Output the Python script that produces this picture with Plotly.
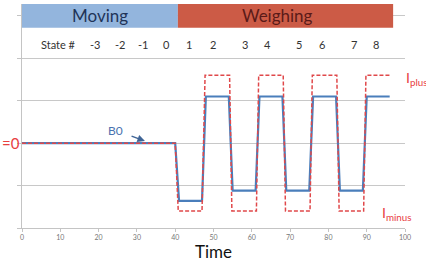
import plotly.graph_objects as go

# ---- data ----
blue_t = [0, 40, 41, 47, 48, 54, 55, 61, 62, 68, 69, 75, 76, 82, 83, 89, 90, 96]
blue_v = [0, 0, -1.36, -1.36, 1.1, 1.1, -1.12, -1.12, 1.1, 1.1, -1.12, -1.12,
          1.1, 1.1, -1.12, -1.12, 1.1, 1.1]

red_t = [0, 40, 40.8, 47, 47.8, 54.2, 54.8, 61.2, 61.8, 68.2, 68.8, 75.2,
         75.8, 82.2, 82.8, 89.2, 89.8, 96]
red_v = [0, 0, -1.6, -1.6, 1.6, 1.6, -1.6, -1.6, 1.6, 1.6, -1.6, -1.6,
         1.6, 1.6, -1.6, -1.6, 1.6, 1.6]

state_labels = ["State #", "-3", "-2", "-1", "0", "1", "2", "3", "4", "5", "6", "7", "8"]
state_x = [9.4, 19.1, 25.6, 31.6, 37.6, 43.6, 49.9, 58.1, 64.2, 72.3, 78.3, 86.7, 92.4]

phase_names = ["Moving", "Weighing"]
phase_start = [0, 40.7]
phase_end = [40.7, 96.9]
phase_fill = ["#93B5DD", "#CC5B46"]
phase_text = ["#1F3458", "#5A1A18"]

x_ticks = [0, 10, 20, 30, 40, 50, 60, 70, 80, 90, 100]

fig = go.Figure()
fig.add_trace(go.Scatter(x=blue_t, y=blue_v, mode="lines",
                         line=dict(color="#4A7EBB", width=2.2), hoverinfo="skip"))
fig.add_trace(go.Scatter(x=red_t, y=red_v, mode="lines",
                         line=dict(color="#E0484A", width=1.5, dash="4px,2px"),
                         hoverinfo="skip"))

for name, x0, x1, fc, tc in zip(phase_names, phase_start, phase_end, phase_fill, phase_text):
    fig.add_shape(type="rect", xref="x", yref="y", x0=x0, x1=x1, y0=2.72, y1=3.28,
                  fillcolor=fc, line=dict(width=0), layer="above")
    fig.add_annotation(x=(x0 + x1) / 2 + (0 if name == "Moving" else -2), y=3.0,
                       xref="x", yref="y", text=name, showarrow=False,
                       font=dict(family="Lato", size=17, color=tc))

for lab, sx in zip(state_labels, state_x):
    fig.add_annotation(x=sx, y=2.32, xref="x", yref="y", text=lab, showarrow=False,
                       font=dict(family="Lato", size=11, color="#333333"))

# B0 label with arrow
fig.add_annotation(x=32.1, y=0.05, ax=24.3, ay=0.31, xref="x", yref="y",
                   axref="x", ayref="y", text="B0", showarrow=True,
                   arrowhead=2, arrowsize=1, arrowwidth=1.5, arrowcolor="#3F6496",
                   standoff=0, startstandoff=8,
                   font=dict(family="Lato", size=12, color="#4A72B0"))

# =0 label (clipped at left)
fig.add_annotation(x=-0.0574, y=0, xref="paper", yref="y", xanchor="left",
                   text="=0", showarrow=False,
                   font=dict(family="Lato", size=15, color="#E8403F"))

fig.add_annotation(x=0.997, y=1.52, xref="paper", yref="y", xanchor="left",
                   text="I<sub>plus</sub>", showarrow=False,
                   font=dict(family="Lato", size=14, color="#E8403F"))
fig.add_annotation(x=0.935, y=-1.66, xref="paper", yref="y", xanchor="left",
                   text="I<sub>minus</sub>", showarrow=False,
                   font=dict(family="Lato", size=14, color="#E8403F"))

fig.add_annotation(x=0.5, y=-0.106, xref="paper", yref="paper", text="Time",
                   xanchor="center", yanchor="middle",
                   showarrow=False, font=dict(family="Lato", size=17, color="#111111"))

fig.update_layout(
    width=426, height=260,
    margin=dict(l=22, r=21, t=4, b=32),
    paper_bgcolor="white", plot_bgcolor="white",
    showlegend=False,
)
fig.update_xaxes(range=[0, 100], tickvals=x_ticks, showgrid=False,
                 showline=True, linecolor="#C4C4C4", linewidth=1,
                 ticks="outside", ticklen=3, tickcolor="#C4C4C4",
                 tickfont=dict(family="Lato", size=7, color="#777777"),
                 zeroline=False, fixedrange=True)
fig.update_yaxes(range=[-2, 3.28], tick0=-2, dtick=1, showgrid=True,
                 gridcolor="#C8C8C8", gridwidth=1, showticklabels=False,
                 showline=True, linecolor="#C4C4C4", linewidth=1,
                 ticks="outside", ticklen=4, tickcolor="#C4C4C4",
                 zeroline=False, fixedrange=True)

fig.write_html("out.html")
